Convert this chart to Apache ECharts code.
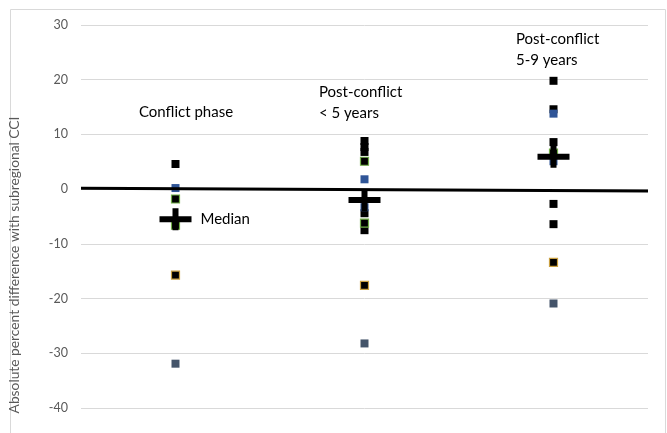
<!DOCTYPE html>
<html><head><meta charset="utf-8">
<script src="https://cdn.jsdelivr.net/npm/echarts@6/dist/echarts.min.js"></script>
<style>html,body{margin:0;padding:0;background:#fff}#c{width:667px;height:433px}</style>
</head><body><div id="c"></div>
<script>
var categories = ['Conflict phase', 'Post-conflict\n< 5 years', 'Post-conflict\n5-9 years'];
var yTicks = [-40, -30, -20, -10, 0, 10, 20, 30];
// [categoryPosition (1..3), value]
var blackPts = [[1, 4.6], [2, 8.8], [2, 7.7], [2, 6.8], [2, -4.4], [2, -7.5],
  [3, 19.8], [3, 14.6], [3, 8.6], [3, -2.7], [3, -6.4]];
var greenEdgePts = [[1, -1.8], [1, -6.6], [2, 5.1], [2, -6.2], [3, 6.6]];
var goldEdgePts = [[1, -15.7], [2, -17.6], [3, -13.4]];
var bluePts = [[1, 0.2], [2, 1.8], [2, -3.3], [3, 5.1], [3, 13.8]];
var slatePts = [[1, -31.9], [2, -28.2], [3, -20.9]];
var medians = [[1, -5.5], [2, -2.0], [3, 5.9]];
var zeroLine = [[0.5, 0.15], [3.5, -0.35]];

var chart = echarts.init(document.getElementById('c'), null, {renderer: 'canvas'});
var font = 'Lato';
function sq(name, data, color, edge) {
  return {type: 'scatter', name: name, data: data, symbol: 'rect', symbolSize: 8,
    itemStyle: {color: color, opacity: 1, borderColor: edge || color, borderWidth: edge ? 1.2 : 0},
    z: 3, silent: true};
}
function txt(s, x, y) {
  return {type: 'text', x: x, y: y, z: 10,
    style: {text: s, fontSize: 15, fontFamily: font, fill: '#000', align: 'left', verticalAlign: 'middle', lineHeight: 21}};
}
chart.setOption({
  animation: false,
  grid: {left: 81, right: 19, top: 25, bottom: 25},
  graphic: [
    {type: 'rect', shape: {x: 10.5, y: 9.5, width: 655, height: 440}, style: {fill: 'none', stroke: '#d9d9d9', lineWidth: 1}, z: 0},
    {type: 'text', x: 15, y: 265, rotation: Math.PI / 2, z: 10,
      style: {text: 'Absolute percent difference with subregional CCI', fontSize: 13.8, fontFamily: font, fill: '#595959', align: 'center', verticalAlign: 'middle'}},
    txt(categories[0], 139, 112),
    txt(categories[1], 319, 102.5),
    txt(categories[2], 516, 49.5)
  ],
  xAxis: {type: 'value', min: 0.5, max: 3.5, show: false},
  yAxis: {type: 'value', min: -40, max: 30, interval: 10,
    axisLine: {show: false}, axisTick: {show: false},
    axisLabel: {color: '#595959', fontSize: 12.5, fontFamily: font, margin: 13},
    splitLine: {lineStyle: {color: '#d9d9d9', width: 1}}},
  series: [
    sq('black', blackPts, '#000000'),
    sq('green', greenEdgePts, '#000000', '#70AD47'),
    sq('gold', goldEdgePts, '#000000', '#C9A041'),
    sq('blue', bluePts, '#2F5597'),
    sq('slate', slatePts, '#44546A'),
    {type: 'line', data: zeroLine, symbol: 'none', lineStyle: {color: '#000', width: 3}, z: 4, silent: true},
    {type: 'scatter', name: 'Median', data: medians,
      symbol: 'path://M0,8H13V0H19V8H32V14H19V22H13V14H0Z', symbolSize: [32, 22],
      itemStyle: {color: '#000', opacity: 1}, z: 5, silent: true,
      label: {show: true, formatter: function (p) { return p.dataIndex === 0 ? 'Median' : ''; },
        position: 'right', distance: 9, color: '#000', fontSize: 15, fontFamily: font}}
  ]
});
</script></body></html>
